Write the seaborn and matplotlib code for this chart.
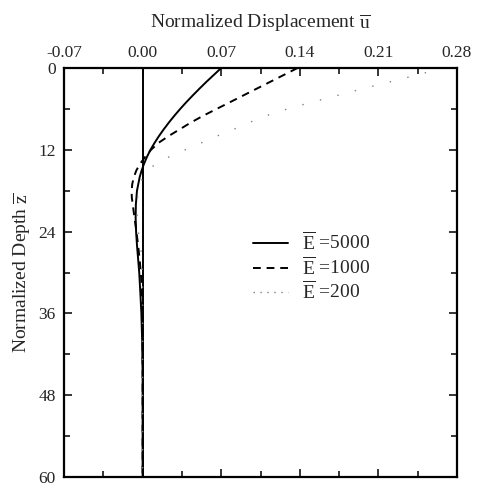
import numpy as np
import pandas as pd
import seaborn as sns
import matplotlib
matplotlib.use("Agg")
import matplotlib.pyplot as plt
from matplotlib.lines import Line2D
from matplotlib.ticker import MultipleLocator

# ---- data ----
z_5000 = [0, 1, 2, 3, 4, 5, 6, 7, 8, 9, 10, 11, 12, 13, 14, 15, 16, 18, 20, 22,
          24, 26, 28, 30, 33, 36, 40, 45, 50, 55, 60]
u_5000 = [0.070, 0.0635, 0.057, 0.0508, 0.0448, 0.039, 0.0335, 0.0283, 0.0234, 0.0188,
          0.0145, 0.0106, 0.0070, 0.0040, 0.0014, -0.0008, -0.0026, -0.0050, -0.0060,
          -0.0062, -0.0058, -0.0050, -0.0040, -0.0030, -0.0020, -0.0011, -0.0004,
          0.0, 0.0, 0.0, 0.0]

z_1000 = [0, 1, 2, 3, 4, 5, 6, 7, 8, 9, 10, 11, 12, 13, 14, 15, 16, 17, 18, 19,
          20, 22, 24, 26, 28, 30, 32, 35, 40, 50, 60]
u_1000 = [0.138, 0.126, 0.114, 0.102, 0.090, 0.078, 0.066, 0.054, 0.043, 0.033,
          0.023, 0.014, 0.0075, 0.0025, -0.0020, -0.0055, -0.0078, -0.0092, -0.0098,
          -0.0096, -0.0088, -0.0072, -0.0055, -0.0040, -0.0027, -0.0016, -0.0008,
          -0.0002, 0.0, 0.0, 0.0]

z_200 = [0, 1, 2, 3, 4, 5, 6, 7, 8, 9, 10, 11, 12, 13, 14, 15, 16, 17, 18, 20,
         22, 24, 26, 28, 30, 33, 36, 40, 50, 60]
u_200 = [0.268, 0.245, 0.221, 0.197, 0.174, 0.151, 0.129, 0.110, 0.095, 0.081,
         0.066, 0.052, 0.038, 0.024, 0.012, 0.005, 0.0005, -0.0025, -0.0040, -0.0050,
         -0.0048, -0.0038, -0.0018, -0.0008, -0.0003, 0.0, 0.0, 0.0, 0.0, 0.0]

labels = [r"$\overline{\mathrm{E}}$ =5000", r"$\overline{\mathrm{E}}$ =1000",
          r"$\overline{\mathrm{E}}$ =200"]
x_ticks = [-0.07, 0.00, 0.07, 0.14, 0.21, 0.28]
y_ticks = [0, 12, 24, 36, 48, 60]

# ---- style ----
sns.set_style("ticks")
plt.rcParams["font.family"] = ["Liberation Serif", "DejaVu Serif"]
plt.rcParams["mathtext.fontset"] = "custom"
plt.rcParams["mathtext.rm"] = "Liberation Serif"
plt.rcParams["mathtext.it"] = "Liberation Serif:italic"

fig = plt.figure(figsize=(4.78, 4.88), dpi=100)
ax = fig.add_axes([64 / 478, 1 - 477 / 488, (457 - 64) / 478, (477 - 68) / 488])

ax.axvline(0.0, color="black", lw=1.4, zorder=1)

sns.lineplot(x=u_5000, y=z_5000, sort=False, estimator=None, ax=ax,
             color="black", lw=1.4, linestyle="-")
sns.lineplot(x=u_1000, y=z_1000, sort=False, estimator=None, ax=ax,
             color="black", lw=1.4, dashes=False, linestyle=(0, (4, 3)))
sns.lineplot(x=u_200, y=z_200, sort=False, estimator=None, ax=ax,
             color="#808080", lw=1.0, linestyle=(0, (1, 12)))

ax.set_xlim(-0.07, 0.28)
ax.set_ylim(60, 0)
ax.set_xticks(x_ticks)
ax.set_xticklabels([f"{t:.2f}" for t in x_ticks])
ax.set_yticks(y_ticks)
ax.xaxis.set_minor_locator(MultipleLocator(0.035))
ax.yaxis.set_minor_locator(MultipleLocator(6))

ax.xaxis.set_label_position("top")
ax.xaxis.tick_top()
ax.tick_params(axis="both", which="both", direction="in", top=True, bottom=True,
               left=True, right=True, labeltop=True, labelbottom=False,
               width=1.3, labelsize=12.5)
ax.tick_params(which="major", length=6)
ax.tick_params(which="minor", length=4)
ax.tick_params(axis="x", pad=5)
ax.tick_params(axis="y", pad=6)

for s in ax.spines.values():
    s.set_linewidth(1.6)
    s.set_color("black")

ax.set_xlabel(r"Normalized Displacement $\overline{\mathrm{u}}$", fontsize=14, labelpad=12)
ax.set_ylabel(r"Normalized Depth $\overline{\mathrm{z}}$", fontsize=14, labelpad=4)

handles = [
    Line2D([], [], color="black", lw=1.4, linestyle="-"),
    Line2D([], [], color="black", lw=1.4, linestyle=(0, (4, 3))),
    Line2D([], [], color="#808080", lw=1.0, linestyle=(0, (1, 4))),
]
ax.legend(handles, labels, loc="upper left", bbox_to_anchor=(0.46, 0.62),
          frameon=False, fontsize=14, handlelength=1.8, handletextpad=0.72,
          labelspacing=0.1, borderaxespad=0)

fig.savefig("out.png", dpi=100)
